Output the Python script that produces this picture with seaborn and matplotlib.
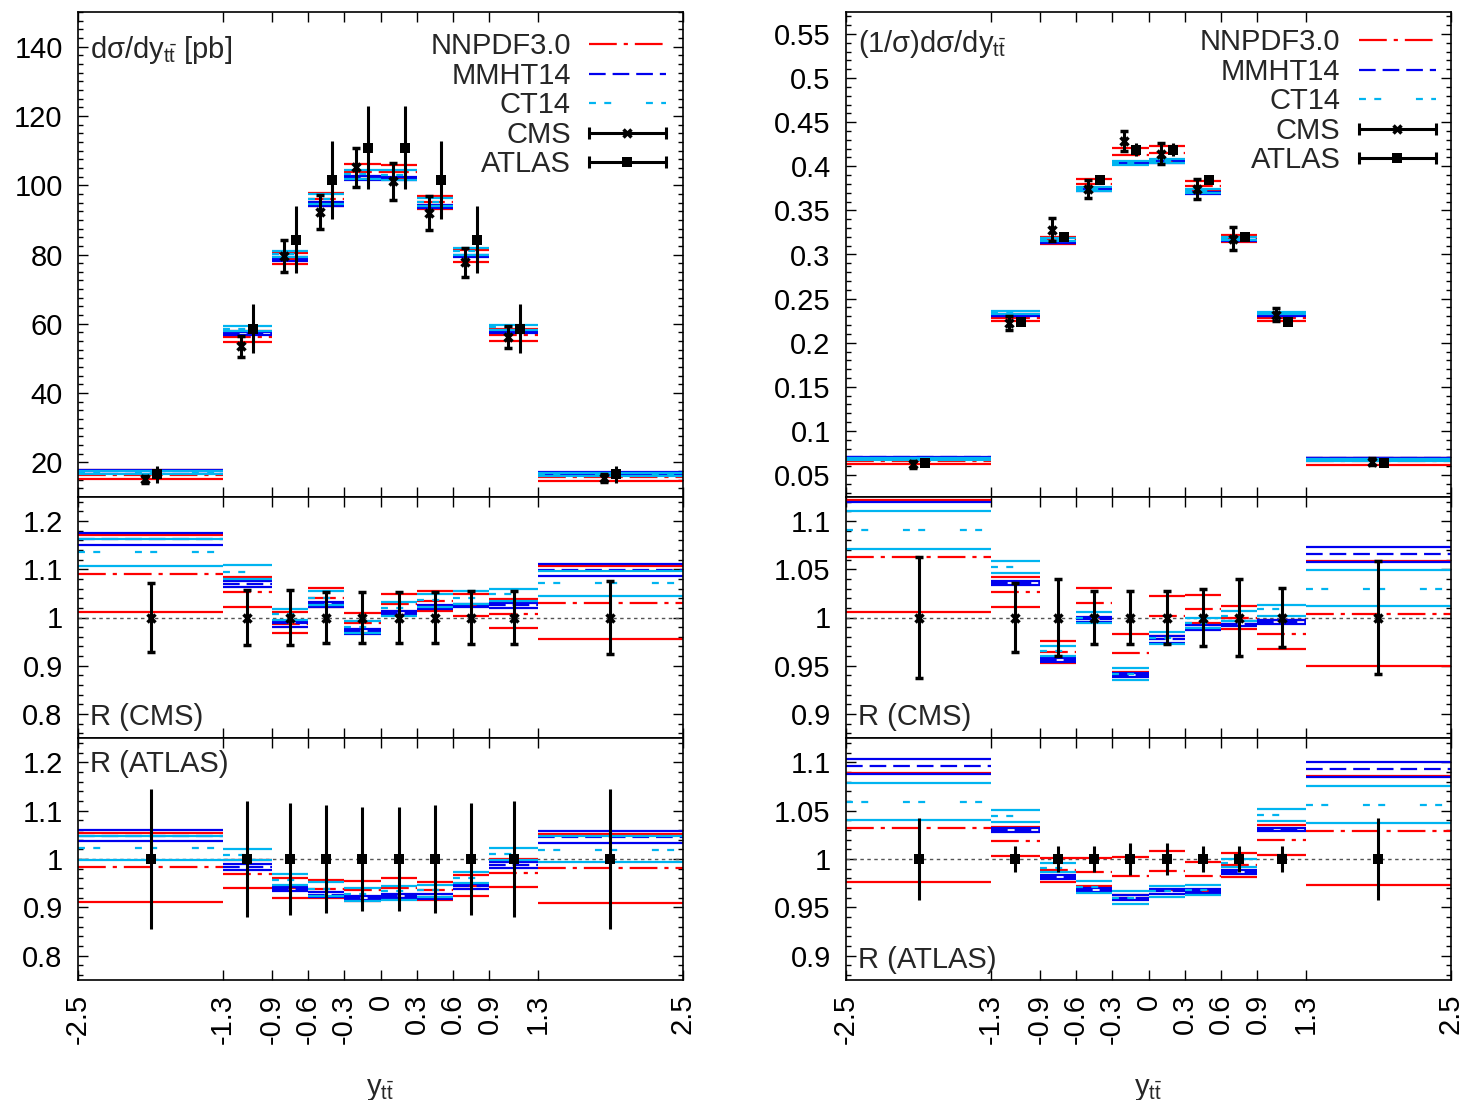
import numpy as np
import matplotlib
matplotlib.use('Agg')
import matplotlib.pyplot as plt
import seaborn as sns
from matplotlib.lines import Line2D
from matplotlib.legend_handler import HandlerBase
from matplotlib.ticker import MultipleLocator, AutoMinorLocator, FormatStrFormatter, NullLocator

# bins in y_ttbar
edges = [-2.5, -1.3, -0.9, -0.6, -0.3, 0.0, 0.3, 0.6, 0.9, 1.3, 2.5]
edge_labels = ['-2.5', '-1.3', '-0.9', '-0.6', '-0.3', '0', '0.3', '0.6', '0.9', '1.3', '2.5']

# measured dsigma/dy [pb]
cms_xsec = [15.1, 53.5, 79.7, 92.2, 105.2, 101.1, 91.9, 77.7, 56.3, 15.4]
cms_xsec_err = [1.07, 3.05, 4.62, 4.89, 5.58, 5.36, 4.87, 4.20, 3.15, 1.16]
atlas_xsec = [16.5, 58.6, 84.3, 101.5, 110.8, 110.8, 101.5, 84.3, 58.6, 16.5]
atlas_xsec_err = [2.38, 7.03, 9.69, 11.37, 11.97, 11.97, 11.27, 9.69, 7.03, 2.38]

# measured (1/sigma) dsigma/dy
cms_norm = [0.062, 0.2227, 0.328, 0.374, 0.4288, 0.4144, 0.374, 0.318, 0.2318, 0.065]
cms_norm_err = [0.0039, 0.0080, 0.0131, 0.0101, 0.0116, 0.0116, 0.0112, 0.0127, 0.0070, 0.0038]
atlas_norm = [0.063, 0.224, 0.320, 0.3845, 0.419, 0.419, 0.3845, 0.320, 0.224, 0.063]
atlas_norm_err = [0.0027, 0.0029, 0.0042, 0.0050, 0.0071, 0.0069, 0.0050, 0.0042, 0.0029, 0.0027]

# theory / data, rows = upper, central, lower
nnpdf_rcms_xsec = [[1.171, 1.084, 1.011, 1.061, 1.009, 1.048, 1.054, 1.048, 1.038, 1.106],
                   [1.091, 1.052, 0.986, 1.041, 0.988, 1.027, 1.034, 1.025, 1.007, 1.030],
                   [1.012, 1.021, 0.968, 1.021, 0.967, 1.006, 1.014, 1.003, 0.978, 0.956]]
mmht_rcms_xsec = [[1.175, 1.076, 0.9935, 1.0325, 0.976, 1.014, 1.026, 1.029, 1.030, 1.111],
                  [1.163, 1.069, 0.988, 1.027, 0.971, 1.010, 1.021, 1.025, 1.026, 1.099],
                  [1.151, 1.063, 0.981, 1.021, 0.966, 1.005, 1.017, 1.021, 1.019, 1.087]]
ct14_rcms_xsec = [[1.163, 1.108, 1.017, 1.056, 0.9935, 1.0325, 1.049, 1.055, 1.060, 1.097],
                  [1.135, 1.095, 1.007, 1.041, 0.981, 1.019, 1.036, 1.041, 1.048, 1.071],
                  [1.107, 1.080, 0.995, 1.026, 0.968, 1.004, 1.022, 1.028, 1.035, 1.045]]

nnpdf_ratlas_xsec = [[1.054, 0.998, 0.961, 0.957, 0.955, 0.960, 0.952, 0.966, 1.000, 1.0515],
                     [0.983, 0.969, 0.940, 0.938, 0.935, 0.940, 0.935, 0.944, 0.9705, 0.981],
                     [0.911, 0.940, 0.920, 0.919, 0.914, 0.920, 0.916, 0.924, 0.942, 0.909]]
mmht_ratlas_xsec = [[1.060, 0.990, 0.943, 0.931, 0.924, 0.928, 0.927, 0.9485, 0.993, 1.057],
                    [1.048, 0.984, 0.938, 0.926, 0.920, 0.924, 0.922, 0.944, 0.988, 1.046],
                    [1.0365, 0.978, 0.933, 0.921, 0.9155, 0.920, 0.918, 0.938, 0.981, 1.034]]
ct14_ratlas_xsec = [[1.048, 1.021, 0.968, 0.952, 0.940, 0.945, 0.947, 0.974, 1.022, 1.048],
                    [1.023, 1.009, 0.957, 0.938, 0.928, 0.933, 0.935, 0.961, 1.010, 1.019],
                    [0.998, 0.997, 0.946, 0.924, 0.914, 0.9155, 0.921, 0.950, 0.997, 0.994]]

nnpdf_rcms_norm = [[1.1216, 1.0416, 0.9756, 1.0306, 0.9825, 1.022, 1.0237, 1.0117, 0.9969, 1.0588],
                   [1.0632, 1.026, 0.9642, 1.0151, 0.963, 1.0013, 1.009, 0.9997, 0.9825, 1.0041],
                   [1.0055, 1.011, 0.9526, 0.9996, 0.9433, 0.9805, 0.9943, 0.9876, 0.9677, 0.9495]]
mmht_rcms_norm = [[1.138, 1.038, 0.9585, 1.0005, 0.9425, 0.9812, 0.992, 0.996, 0.9976, 1.0735],
                  [1.129, 1.036, 0.956, 0.998, 0.9403, 0.9776, 0.9895, 0.9935, 0.9955, 1.0657],
                  [1.120, 1.034, 0.9535, 0.9955, 0.938, 0.974, 0.987, 0.991, 0.993, 1.0574]]
ct14_rcms_norm = [[1.110, 1.0588, 0.9704, 1.0055, 0.9474, 0.985, 0.9997, 1.0065, 1.0134, 1.0488],
                  [1.0907, 1.0523, 0.9653, 0.9997, 0.9414, 0.979, 0.9945, 1.0015, 1.0083, 1.030],
                  [1.071, 1.046, 0.960, 0.994, 0.9354, 0.973, 0.989, 0.9965, 1.002, 1.0117]]

nnpdf_ratlas_norm = [[1.0887, 1.0333, 1.0007, 1.001, 1.0024, 1.0079, 0.9972, 1.0062, 1.0347, 1.0853],
                     [1.032, 1.0182, 0.9887, 0.9863, 0.9828, 0.988, 0.9822, 0.9938, 1.0193, 1.0292],
                     [0.976, 1.0028, 0.9766, 0.9716, 0.9632, 0.968, 0.967, 0.9818, 1.0041, 0.9732]]
mmht_ratlas_norm = [[1.1038, 1.0316, 0.983, 0.9705, 0.9624, 0.969, 0.9695, 0.9885, 1.0325, 1.1003],
                    [1.0956, 1.030, 0.981, 0.968, 0.960, 0.9665, 0.967, 0.9865, 1.0305, 1.0925],
                    [1.0876, 1.0282, 0.979, 0.9655, 0.9577, 0.964, 0.9645, 0.9845, 1.0285, 1.0842]]
ct14_ratlas_norm = [[1.078, 1.0505, 0.9956, 0.9776, 0.9667, 0.9725, 0.9735, 1.0, 1.0515, 1.075],
                    [1.059, 1.0447, 0.991, 0.971, 0.9602, 0.9665, 0.968, 0.996, 1.0454, 1.056],
                    [1.040, 1.0385, 0.9863, 0.9646, 0.9536, 0.9605, 0.9625, 0.992, 1.0395, 1.0368]]

pdf_names = ['NNPDF3.0', 'MMHT14', 'CT14']

sns.set_theme(style='ticks')
plt.rcParams['font.family'] = ['Liberation Sans', 'DejaVu Sans']
plt.rcParams['mathtext.fontset'] = 'custom'
plt.rcParams['mathtext.rm'] = 'Liberation Sans'
plt.rcParams['mathtext.it'] = 'Liberation Sans:italic'
plt.rcParams['lines.scale_dashes'] = False
plt.rcParams['axes.linewidth'] = 1.2
plt.rcParams['axes.edgecolor'] = 'black'

FS = 21
styles = {
    'NNPDF3.0': dict(color='#ff0000', dash=(0, (20, 5, 3, 5))),
    'MMHT14': dict(color='#0000ee', dash=(0, (12, 5))),
    'CT14': dict(color='#00b4f0', dash=(0, (5, 6, 5, 25))),
}
LW = 1.6

edges_a = np.array(edges)
lo, hi = edges_a[:-1], edges_a[1:]
centers = 0.5 * (lo + hi)


class ErrorKeyHandler(HandlerBase):
    # gnuplot-like key sample: horizontal bar with end caps and point in the middle
    def create_artists(self, legend, orig_handle, xdescent, ydescent, width, height, fontsize, trans):
        y = height / 2 - ydescent
        x0 = -xdescent
        x1 = x0 + width
        bar = Line2D([x0, x1], [y, y], color='black', lw=2.2, solid_capstyle='butt')
        caps = Line2D([x0, x1], [y, y], ls='none', marker='|', ms=8, mew=2.2, color='black')
        point = Line2D([(x0 + x1) / 2], [y], ls='none', marker=orig_handle.get_marker(),
                       ms=orig_handle.get_markersize(), mew=orig_handle.get_markeredgewidth(),
                       color='black')
        for a in (bar, caps, point):
            a.set_transform(trans)
        return [bar, caps, point]


def draw_pdf(ax, rows, name, scale=None):
    st = styles[name]
    up, cen, dn = (np.asarray(r, dtype=float) for r in rows)
    if scale is not None:
        up, cen, dn = up * scale, cen * scale, dn * scale
    ax.hlines(up, lo, hi, colors=st['color'], lw=LW, zorder=2)
    ax.hlines(dn, lo, hi, colors=st['color'], lw=LW, zorder=2)
    ax.hlines(cen, lo, hi, colors=st['color'], lw=LW, linestyles=[st['dash']], zorder=2)


def draw_data(ax, x, y, err, marker):
    if marker == 'x':
        kw = dict(fmt='x', ms=6, mew=2.5)
    else:
        kw = dict(fmt='s', ms=7.5, mew=0)
    ax.errorbar(x, y, yerr=err, color='black', ecolor='black', elinewidth=2.2,
                capsize=3, capthick=2.2, zorder=6, **kw)


def style_axis(ax, ylim, major, nminor, show_x):
    ax.set_xlim(-2.5, 2.5)
    ax.set_ylim(*ylim)
    ax.set_xticks(edges)
    ax.xaxis.set_minor_locator(NullLocator())
    ax.yaxis.set_major_locator(MultipleLocator(major))
    ax.yaxis.set_minor_locator(AutoMinorLocator(nminor))
    ax.yaxis.set_major_formatter(FormatStrFormatter('%g'))
    ax.tick_params(which='both', direction='in', top=True, right=True, width=1.0,
                   labelsize=FS, colors='black')
    ax.tick_params(which='major', length=7)
    ax.tick_params(which='minor', length=3.5)
    ax.tick_params(axis='y', pad=11)
    if show_x:
        ax.set_xticklabels(edge_labels, rotation=90)
        ax.tick_params(axis='x', pad=10)
        ax.set_xlabel(r'y$_{\mathrm{t\bar{t}}}$', fontsize=FS, labelpad=22)
    else:
        ax.tick_params(axis='x', labelbottom=False)
    ax.grid(False)
    for s in ax.spines.values():
        s.set_color('black')


fig = plt.figure(figsize=(14.61, 11.0), dpi=100)
W, H = 1461.0, 1100.0
row_px = [(12, 497), (497, 738), (738, 980)]


def panel(x0, top, bottom):
    return fig.add_axes([x0 / W, 1 - bottom / H, 605 / W, (bottom - top) / H])


columns = [
    dict(x0=78, cms=cms_xsec, cms_err=cms_xsec_err, atlas=atlas_xsec, atlas_err=atlas_xsec_err,
         rcms=[nnpdf_rcms_xsec, mmht_rcms_xsec, ct14_rcms_xsec],
         ratlas=[nnpdf_ratlas_xsec, mmht_ratlas_xsec, ct14_ratlas_xsec],
         main_ylim=(10, 150), main_major=20, main_minor=8,
         r_ylim=(0.75, 1.25), r_major=0.1,
         title='d\u03c3/dy$_{\\mathrm{t\\bar{t}}}$ [pb]', title_y=0.905,
         leg_anchor=(0.972, 0.958), ratlas_label_y=0.86),
    dict(x0=846, cms=cms_norm, cms_err=cms_norm_err, atlas=atlas_norm, atlas_err=atlas_norm_err,
         rcms=[nnpdf_rcms_norm, mmht_rcms_norm, ct14_rcms_norm],
         ratlas=[nnpdf_ratlas_norm, mmht_ratlas_norm, ct14_ratlas_norm],
         main_ylim=(0.025, 0.575), main_major=0.05, main_minor=5,
         r_ylim=(0.875, 1.125), r_major=0.05,
         title='(1/\u03c3)d\u03c3/dy$_{\\mathrm{t\\bar{t}}}$', title_y=0.918,
         leg_anchor=(0.975, 0.966), ratlas_label_y=0.05),
]

for col in columns:
    ax_main = panel(col['x0'], *row_px[0])
    ax_rc = panel(col['x0'], *row_px[1])
    ax_ra = panel(col['x0'], *row_px[2])

    cms = np.asarray(col['cms'])
    cms_err = np.asarray(col['cms_err'])
    atlas = np.asarray(col['atlas'])
    atlas_err = np.asarray(col['atlas_err'])

    # absolute theory = (theory/CMS) * CMS
    for name, rows in zip(pdf_names, col['rcms']):
        draw_pdf(ax_main, rows, name, scale=cms)
        draw_pdf(ax_rc, rows, name)
    for name, rows in zip(pdf_names, col['ratlas']):
        draw_pdf(ax_ra, rows, name)

    draw_data(ax_main, centers - 0.05, cms, cms_err, 'x')
    draw_data(ax_main, centers + 0.05, atlas, atlas_err, 's')
    draw_data(ax_rc, centers, cms / cms, cms_err / cms, 'x')
    draw_data(ax_ra, centers, atlas / atlas, atlas_err / atlas, 's')

    for ax in (ax_rc, ax_ra):
        ax.axhline(1.0, color='#555555', lw=1.0, ls=(0, (2.5, 2.5)), zorder=1)

    style_axis(ax_main, col['main_ylim'], col['main_major'], col['main_minor'], False)
    style_axis(ax_rc, col['r_ylim'], col['r_major'], 5, False)
    style_axis(ax_ra, col['r_ylim'], col['r_major'], 5, True)

    ax_main.text(0.02, col['title_y'], col['title'], transform=ax_main.transAxes,
                 fontsize=FS, ha='left', va='baseline')
    ax_rc.text(0.02, 0.054, 'R (CMS)', transform=ax_rc.transAxes,
               fontsize=FS, ha='left', va='baseline')
    ax_ra.text(0.02, col['ratlas_label_y'], 'R (ATLAS)', transform=ax_ra.transAxes,
               fontsize=FS, ha='left', va='baseline')

    handles = [Line2D([], [], color=styles[n]['color'], lw=LW, ls=styles[n]['dash']) for n in pdf_names]
    cms_key = Line2D([], [], marker='x', ms=6, mew=2.5, color='black')
    atlas_key = Line2D([], [], marker='s', ms=7.5, mew=0, color='black')
    handles += [cms_key, atlas_key]
    labels = pdf_names + ['CMS', 'ATLAS']
    ax_main.legend(handles, labels, loc='upper right', bbox_to_anchor=col['leg_anchor'],
                   frameon=False, markerfirst=False, fontsize=FS, borderpad=0,
                   borderaxespad=0, handlelength=2.65, handletextpad=0.62,
                   labelspacing=0.05, numpoints=1,
                   handler_map={cms_key: ErrorKeyHandler(), atlas_key: ErrorKeyHandler()})

fig.savefig('out.png', dpi=100)
